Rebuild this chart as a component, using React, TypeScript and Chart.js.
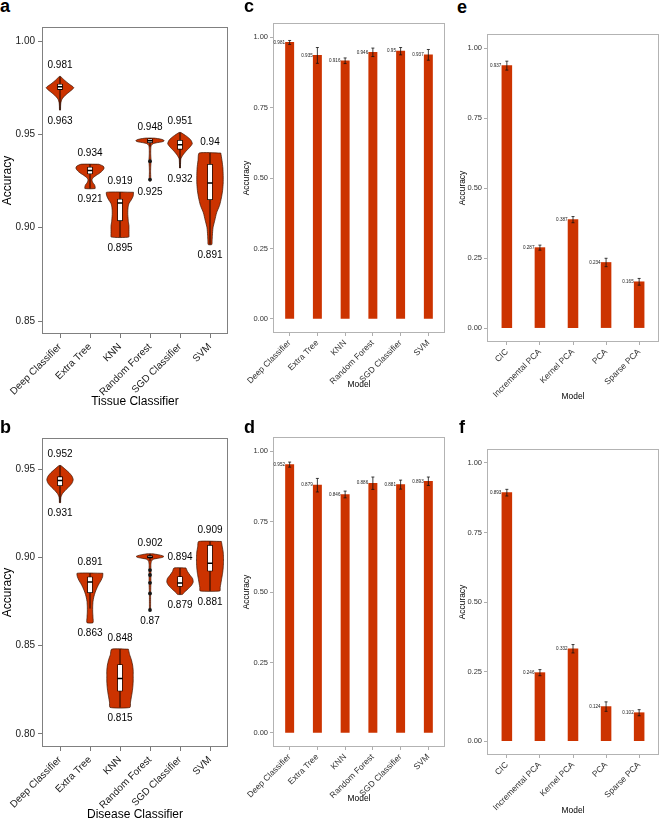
import React, { useEffect, useRef } from 'react';
import { Chart, registerables } from 'chart.js';
Chart.register(...registerables);

const FONT = "'Liberation Sans', Arial, Helvetica, sans-serif";
const RED = '#CC3300';

// ---------------- data: violin panels ----------------
const tissueModels = ['Deep Classifier', 'Extra Tree', 'KNN', 'Random Forest', 'SGD Classifier', 'SVM'];
const tissueMax = [0.981, 0.934, 0.919, 0.948, 0.951, 0.94];
const tissueMin = [0.963, 0.921, 0.895, 0.925, 0.932, 0.891];
const tissueQ1 = [0.974, 0.9288, 0.9037, 0.9455, 0.942, 0.915];
const tissueMedian = [0.9755, 0.9307, 0.9133, 0.9466, 0.9445, 0.924];
const tissueQ3 = [0.977, 0.9325, 0.9154, 0.9476, 0.9468, 0.934];
const tissueWhiskerLo = [0.963, 0.921, 0.895, 0.9435, 0.932, 0.891];
const tissueWhiskerHi = [0.981, 0.934, 0.919, 0.948, 0.951, 0.94];
const tissueOutlierCat = [4, 4];
const tissueOutlierVal = [0.9356, 0.9258];
const tissueViolinY = [
  [0.981, 0.979, 0.977, 0.975, 0.973, 0.971, 0.969, 0.967, 0.965, 0.963],
  [0.934, 0.933, 0.932, 0.931, 0.93, 0.929, 0.928, 0.927, 0.926, 0.925, 0.924, 0.923, 0.922, 0.921],
  [0.919, 0.917, 0.915, 0.913, 0.911, 0.909, 0.907, 0.905, 0.903, 0.901, 0.899, 0.897, 0.895],
  [0.948, 0.9475, 0.947, 0.9465, 0.946, 0.9455, 0.945, 0.944, 0.942, 0.939, 0.936, 0.933, 0.93, 0.927, 0.925],
  [0.951, 0.949, 0.947, 0.945, 0.943, 0.941, 0.939, 0.937, 0.935, 0.933, 0.932],
  [0.94, 0.936, 0.932, 0.928, 0.924, 0.92, 0.916, 0.912, 0.908, 0.904, 0.9, 0.896, 0.893, 0.891],
];
const tissueViolinW = [
  [0.02, 0.15, 0.3, 0.46, 0.33, 0.18, 0.07, 0.03, 0.02, 0.015],
  [0.3, 0.44, 0.47, 0.44, 0.38, 0.3, 0.2, 0.12, 0.07, 0.07, 0.1, 0.15, 0.17, 0.17],
  [0.45, 0.44, 0.38, 0.3, 0.27, 0.26, 0.26, 0.27, 0.28, 0.3, 0.3, 0.3, 0.29],
  [0.15, 0.35, 0.45, 0.47, 0.4, 0.22, 0.1, 0.04, 0.025, 0.025, 0.035, 0.025, 0.02, 0.025, 0.02],
  [0.03, 0.22, 0.36, 0.41, 0.32, 0.2, 0.1, 0.03, 0.02, 0.015, 0.015],
  [0.36, 0.4, 0.43, 0.44, 0.44, 0.42, 0.38, 0.32, 0.22, 0.16, 0.1, 0.08, 0.07, 0.06],
];
const tissueTicks = [0.85, 0.9, 0.95, 1.0];

const diseaseModels = ['Deep Classifier', 'Extra Tree', 'KNN', 'Random Forest', 'SGD Classifier', 'SVM'];
const diseaseMax = [0.952, 0.891, 0.848, 0.902, 0.894, 0.909];
const diseaseMin = [0.931, 0.863, 0.815, 0.87, 0.879, 0.881];
const diseaseQ1 = [0.9406, 0.88, 0.8242, 0.8995, 0.8835, 0.8922];
const diseaseMedian = [0.9435, 0.886, 0.8314, 0.9, 0.8855, 0.8967];
const diseaseQ3 = [0.9457, 0.889, 0.8393, 0.901, 0.8891, 0.9069];
const diseaseWhiskerLo = [0.931, 0.871, 0.815, 0.898, 0.879, 0.881];
const diseaseWhiskerHi = [0.952, 0.891, 0.848, 0.902, 0.894, 0.909];
const diseaseOutlierCat = [4, 4, 4, 4, 4];
const diseaseOutlierVal = [0.8928, 0.89, 0.8856, 0.8796, 0.8702];
const diseaseViolinY = [
  [0.952, 0.95, 0.948, 0.946, 0.944, 0.942, 0.94, 0.938, 0.936, 0.934, 0.932, 0.931],
  [0.891, 0.889, 0.887, 0.885, 0.883, 0.881, 0.879, 0.877, 0.875, 0.872, 0.869, 0.866, 0.863],
  [0.848, 0.845, 0.842, 0.839, 0.836, 0.833, 0.83, 0.827, 0.824, 0.821, 0.818, 0.815],
  [0.902, 0.9015, 0.901, 0.9005, 0.9, 0.8995, 0.899, 0.898, 0.896, 0.893, 0.89, 0.886, 0.882, 0.878, 0.874, 0.87],
  [0.894, 0.892, 0.89, 0.888, 0.886, 0.884, 0.882, 0.88, 0.879],
  [0.909, 0.906, 0.903, 0.9, 0.897, 0.894, 0.891, 0.888, 0.885, 0.883, 0.881],
];
const diseaseViolinW = [
  [0.03, 0.17, 0.3, 0.4, 0.44, 0.4, 0.3, 0.18, 0.08, 0.03, 0.02, 0.02],
  [0.43, 0.42, 0.37, 0.3, 0.24, 0.19, 0.15, 0.12, 0.1, 0.09, 0.09, 0.1, 0.1],
  [0.28, 0.32, 0.38, 0.42, 0.44, 0.44, 0.44, 0.43, 0.41, 0.38, 0.35, 0.33],
  [0.1, 0.28, 0.4, 0.46, 0.42, 0.28, 0.12, 0.05, 0.03, 0.03, 0.03, 0.03, 0.025, 0.02, 0.02, 0.015],
  [0.2, 0.25, 0.33, 0.42, 0.44, 0.38, 0.26, 0.13, 0.08],
  [0.38, 0.41, 0.44, 0.45, 0.45, 0.44, 0.42, 0.39, 0.36, 0.34, 0.33],
];
const diseaseTicks = [0.8, 0.85, 0.9, 0.95];

// ---------------- data: bar panels ----------------
const pcaModels = ['CIC', 'Incremental PCA', 'Kernel PCA', 'PCA', 'Sparse PCA'];
const tissueBarMean = [0.981, 0.935, 0.916, 0.946, 0.95, 0.937];
const tissueBarErr = [0.007, 0.028, 0.01, 0.015, 0.013, 0.019];
const diseaseBarMean = [0.952, 0.879, 0.846, 0.886, 0.881, 0.893];
const diseaseBarErr = [0.009, 0.024, 0.012, 0.022, 0.016, 0.015];
const tissuePcaMean = [0.937, 0.287, 0.387, 0.234, 0.165];
const tissuePcaErr = [0.016, 0.009, 0.011, 0.015, 0.012];
const diseasePcaMean = [0.893, 0.246, 0.332, 0.124, 0.102];
const diseasePcaErr = [0.012, 0.011, 0.015, 0.017, 0.011];
const barTicks = [0, 0.25, 0.5, 0.75, 1.0];

// ---------------- layout ----------------
type Geo = {
  x: number; y: number; w: number; h: number;
  box: { l: number; t: number; r: number; b: number };
  xTitlePad: number; yTitlePad: number;
};

const frame = (color: string, width: number) => ({
  id: 'frame',
  afterDatasetsDraw(chart: any) {
    const { ctx, chartArea: a } = chart;
    ctx.save();
    ctx.strokeStyle = color;
    ctx.lineWidth = width;
    ctx.strokeRect(a.left + 0.5, a.top + 0.5, a.right - a.left - 1, a.bottom - a.top - 1);
    ctx.restore();
  },
});

function baseOptions(g: Geo, cats: string[], ticks: number[], yMin: number, yMax: number, st: any) {
  return {
    animation: false,
    responsive: false,
    devicePixelRatio: 1,
    events: [],
    layout: {
      autoPadding: false,
      padding: { left: 0, top: g.box.t - g.y, right: g.x + g.w - g.box.r, bottom: 0 },
    },
    plugins: { legend: { display: false }, tooltip: { enabled: false } },
    scales: {
      x: {
        type: 'linear',
        min: 0.4,
        max: cats.length + 0.6,
        offset: false,
        afterBuildTicks: (ax: any) => { ax.ticks = cats.map((_, i) => ({ value: i + 1 })); },
        afterFit: (ax: any) => { ax.height = g.y + g.h - g.box.b; },
        ticks: {
          autoSkip: false, minRotation: 45, maxRotation: 45, padding: st.xPad,
          color: st.textColor, font: { size: st.xFont, family: FONT },
          callback: (v: any) => cats[Math.round(Number(v)) - 1] ?? '',
        },
        grid: { display: true, drawOnChartArea: false, drawTicks: true, tickLength: st.tickLen, color: st.tickColor, lineWidth: 0.8, offset: false },
        border: { display: false },
        title: { display: true, text: st.xTitle, color: '#000', font: { size: st.titleFont, family: FONT, lineHeight: 1 }, padding: { top: 0, bottom: g.xTitlePad } },
      },
      y: {
        type: 'linear',
        min: yMin,
        max: yMax,
        afterBuildTicks: (ax: any) => { ax.ticks = ticks.map((v) => ({ value: v })); },
        afterFit: (ax: any) => { ax.width = g.box.l - g.x; },
        ticks: {
          padding: st.yPad, color: st.textColor, font: { size: st.yFont, family: FONT },
          callback: (v: any) => Number(v).toFixed(2),
        },
        grid: { display: true, drawOnChartArea: false, drawTicks: true, tickLength: st.tickLen, color: st.tickColor, lineWidth: 0.8 },
        border: { display: false },
        title: { display: true, text: 'Accuracy', color: '#000', font: { size: st.titleFont, family: FONT, lineHeight: 1 }, padding: { top: g.yTitlePad, bottom: 0 } },
      },
    },
  };
}

const violinStyle = (xTitle: string) => ({
  xTitle, xPad: 3, yPad: 3, xFont: 10, yFont: 10, titleFont: 12, tickLen: 4,
  textColor: '#1a1a1a', tickColor: '#555',
});
const barStyle = {
  xTitle: 'Model', xPad: 2, yPad: 2, xFont: 8.5, yFont: 7.5, titleFont: 8.4, tickLen: 3,
  textColor: '#333', tickColor: '#999',
};

type ViolinSpec = {
  cats: string[]; max: number[]; min: number[]; q1: number[]; med: number[]; q3: number[];
  wLo: number[]; wHi: number[]; outCat: number[]; outVal: number[];
  vy: number[][]; vw: number[][]; ticks: number[]; yMin: number; yMax: number; title: string;
};

function violinConfig(s: ViolinSpec, g: Geo) {
  const datasets: any[] = [];
  s.cats.forEach((_, i) => {
    const c = i + 1;
    const right = s.vy[i].map((y, k) => ({ x: c + s.vw[i][k], y }));
    const left = s.vy[i].map((y, k) => ({ x: c - s.vw[i][k], y })).reverse();
    datasets.push({
      type: 'line', data: [...right, ...left, right[0]], borderColor: '#3a1200', borderWidth: 0.7,
      backgroundColor: RED, fill: 'shape', tension: 0.2, pointRadius: 0, order: 10,
    });
  });
  const whisk: any[] = [];
  s.cats.forEach((_, i) => { whisk.push({ x: i + 1, y: s.wLo[i] }, { x: i + 1, y: s.wHi[i] }, { x: i + 1, y: null }); });
  datasets.push({ type: 'line', data: whisk, borderColor: '#000', borderWidth: 0.9, pointRadius: 0, fill: false, spanGaps: false, tension: 0, order: 8 });
  datasets.push({
    type: 'bar', data: s.cats.map((_, i) => ({ x: i + 1, y: [s.q1[i], s.q3[i]] })),
    backgroundColor: '#fff', borderColor: '#000', borderWidth: 0.8, borderSkipped: false, barThickness: 5, order: 6,
  });
  const med: any[] = [];
  s.cats.forEach((_, i) => { med.push({ x: i + 1 - 0.085, y: s.med[i] }, { x: i + 1 + 0.085, y: s.med[i] }, { x: i + 1, y: null }); });
  datasets.push({ type: 'line', data: med, borderColor: '#000', borderWidth: 1.5, pointRadius: 0, fill: false, spanGaps: false, tension: 0, order: 4 });
  datasets.push({
    type: 'line', data: s.outCat.map((c, k) => ({ x: c, y: s.outVal[k] })), showLine: false,
    pointRadius: 1.9, pointBackgroundColor: '#151515', pointBorderWidth: 0, order: 2,
  });
  const labels = {
    id: 'violinLabels',
    afterDatasetsDraw(chart: any) {
      const { ctx, scales: { x, y } } = chart;
      ctx.save();
      ctx.font = `10px ${FONT}`;
      ctx.fillStyle = '#000';
      ctx.textAlign = 'center';
      ctx.textBaseline = 'middle';
      s.cats.forEach((_, i) => {
        const px = x.getPixelForValue(i + 1);
        ctx.fillText(String(s.max[i]), px, y.getPixelForValue(s.max[i]) - 11);
        ctx.fillText(String(s.min[i]), px, y.getPixelForValue(s.min[i]) + 11);
      });
      ctx.restore();
    },
  };
  return {
    type: 'line',
    data: { datasets },
    options: baseOptions(g, s.cats, s.ticks, s.yMin, s.yMax, violinStyle(s.title)),
    plugins: [frame('#808080', 1), labels],
  };
}

function barConfig(cats: string[], mean: number[], err: number[], g: Geo) {
  const unitPx = (g.box.r - g.box.l) / (cats.length + 0.2);
  const errs = {
    id: 'errs',
    afterDatasetsDraw(chart: any) {
      const { ctx, scales: { x, y } } = chart;
      const meta = chart.getDatasetMeta(0);
      ctx.save();
      ctx.strokeStyle = '#111';
      ctx.lineWidth = 0.8;
      mean.forEach((m, i) => {
        const px = x.getPixelForValue(i + 1);
        const top = y.getPixelForValue(m + err[i]);
        const bot = y.getPixelForValue(m - err[i]);
        ctx.beginPath();
        ctx.moveTo(px, top); ctx.lineTo(px, bot);
        ctx.moveTo(px - 1.5, top); ctx.lineTo(px + 1.5, top);
        ctx.moveTo(px - 1.5, bot); ctx.lineTo(px + 1.5, bot);
        ctx.stroke();
      });
      ctx.font = `4.6px ${FONT}`;
      ctx.fillStyle = '#222';
      ctx.textAlign = 'right';
      ctx.textBaseline = 'middle';
      mean.forEach((m, i) => {
        const bar = meta.data[i];
        const half = bar ? bar.width / 2 : 4;
        ctx.fillText(String(m), x.getPixelForValue(i + 1) - half - 0.5, y.getPixelForValue(m));
      });
      ctx.restore();
    },
  };
  return {
    type: 'bar',
    data: {
      datasets: [{
        data: mean.map((v, i) => ({ x: i + 1, y: v })),
        backgroundColor: RED, borderWidth: 0, barThickness: Math.round(unitPx * 0.3 * 10) / 10,
      }],
    },
    options: baseOptions(g, cats, barTicks, -0.05, 1.05, barStyle),
    plugins: [frame('#b3b3b3', 1), errs],
  };
}

// ---------------- components ----------------
function ChartCanvas({ g, make }: { g: Geo; make: () => any }) {
  const ref = useRef<HTMLCanvasElement>(null);
  useEffect(() => {
    const chart = new Chart(ref.current as HTMLCanvasElement, make());
    return () => chart.destroy();
  }, []);
  return (
    <canvas
      ref={ref}
      width={g.w}
      height={g.h}
      style={{ position: 'absolute', left: g.x, top: g.y, width: g.w, height: g.h }}
    />
  );
}

const geoA: Geo = { x: 0, y: 18, w: 232, h: 392, box: { l: 42, t: 25, r: 228, b: 334 }, xTitlePad: 2, yTitlePad: 2 };
const geoB: Geo = { x: 0, y: 428, w: 232, h: 393, box: { l: 42, t: 438, r: 228, b: 747 }, xTitlePad: 0, yTitlePad: 2 };
const geoC: Geo = { x: 228, y: 14, w: 219, h: 381, box: { l: 273, t: 23, r: 445, b: 333 }, xTitlePad: 6, yTitlePad: 14 };
const geoD: Geo = { x: 228, y: 428, w: 219, h: 393, box: { l: 273, t: 437, r: 445, b: 747 }, xTitlePad: 18, yTitlePad: 14 };
const geoE: Geo = { x: 447, y: 25, w: 213, h: 380, box: { l: 487, t: 34, r: 659, b: 342 }, xTitlePad: 4, yTitlePad: 11 };
const geoF: Geo = { x: 447, y: 440, w: 213, h: 381, box: { l: 487, t: 449, r: 659, b: 755 }, xTitlePad: 6, yTitlePad: 11 };

const letters = [
  { t: 'a', x: 0, base: 12 },
  { t: 'b', x: 0, base: 433 },
  { t: 'c', x: 244, base: 12 },
  { t: 'd', x: 244, base: 433 },
  { t: 'e', x: 457, base: 13 },
  { t: 'f', x: 459, base: 433 },
];

export default function App() {
  const tissue: ViolinSpec = {
    cats: tissueModels, max: tissueMax, min: tissueMin, q1: tissueQ1, med: tissueMedian, q3: tissueQ3,
    wLo: tissueWhiskerLo, wHi: tissueWhiskerHi, outCat: tissueOutlierCat, outVal: tissueOutlierVal,
    vy: tissueViolinY, vw: tissueViolinW, ticks: tissueTicks, yMin: 0.8431, yMax: 1.0075, title: 'Tissue Classifier',
  };
  const disease: ViolinSpec = {
    cats: diseaseModels, max: diseaseMax, min: diseaseMin, q1: diseaseQ1, med: diseaseMedian, q3: diseaseQ3,
    wLo: diseaseWhiskerLo, wHi: diseaseWhiskerHi, outCat: diseaseOutlierCat, outVal: diseaseOutlierVal,
    vy: diseaseViolinY, vw: diseaseViolinW, ticks: diseaseTicks, yMin: 0.7926, yMax: 0.9676, title: 'Disease Classifier',
  };
  return (
    <div style={{ position: 'absolute', left: 0, top: 0, width: 660, height: 821, background: '#fff', overflow: 'hidden' }}>
      <ChartCanvas g={geoA} make={() => violinConfig(tissue, geoA)} />
      <ChartCanvas g={geoB} make={() => violinConfig(disease, geoB)} />
      <ChartCanvas g={geoC} make={() => barConfig(tissueModels, tissueBarMean, tissueBarErr, geoC)} />
      <ChartCanvas g={geoD} make={() => barConfig(diseaseModels, diseaseBarMean, diseaseBarErr, geoD)} />
      <ChartCanvas g={geoE} make={() => barConfig(pcaModels, tissuePcaMean, tissuePcaErr, geoE)} />
      <ChartCanvas g={geoF} make={() => barConfig(pcaModels, diseasePcaMean, diseasePcaErr, geoF)} />
      {letters.map((l) => (
        <span
          key={l.t}
          style={{
            position: 'absolute', left: l.x, top: l.base - 15, fontFamily: FONT, fontWeight: 'bold',
            fontSize: 18, lineHeight: '18px', color: '#000',
          }}
        >
          {l.t}
        </span>
      ))}
    </div>
  );
}
